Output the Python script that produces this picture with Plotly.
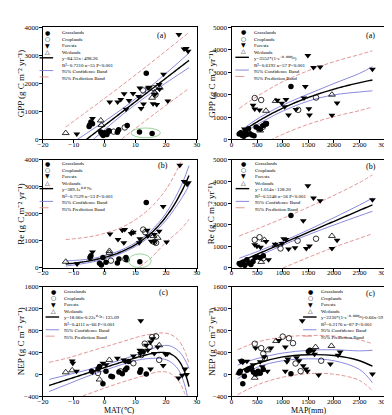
import numpy as np
import plotly.graph_objects as go

# ---------------- DATA ----------------
# Panel (a) left: GPP vs MAT
gpp_mat_grass_x = [13.6, -4.4, -4.8, -5.0, -3.9, -1.2, -0.8, -0.4, 0.2, 0.8, 1.5, 4.2, 4.6, 7.4, 11.4, 15.5]
gpp_mat_grass_y = [2360, 620, 520, 460, 560, 270, 200, 140, 240, 180, 300, 260, 350, 500, 270, 210]
gpp_mat_crop_x = [12.6, 16.0, 16.6, 6.6, 1.4, 3.0]
gpp_mat_crop_y = [1750, 1830, 1600, 430, 300, 280]
gpp_mat_forest_x = [24.2, 25.9, 26.6, 27.2, 19.2, 20.6, 17.8, 17.9, 16.4, 15.8, 17.0, 14.2, 11.5, 11.1, 11.9, 9.3, 6.4, 7.0, 4.3, 5.3, 1.7, -3.9, -9.0, 14.5, 12.7, 8.0]
gpp_mat_forest_y = [3750, 3230, 3250, 3150, 2330, 1370, 1960, 1790, 1610, 1280, 1250, 1840, 1840, 1530, 1110, 1640, 1630, 1080, 1340, 1430, 1340, 750, 200, 1860, 1270, 1390]
gpp_mat_wet_x = [-12.6, -1.2, -1.0, 15.5, 16.3, 18.0]
gpp_mat_wet_y = [230, 680, 520, 1490, 1680, 1850]
gpp_mat_fit = (84.55, 498.26)
gpp_mat_band_x = [-12.6, -6, 0, 6, 12, 18, 24, 27.5]
gpp_mat_conf_up = [-267, 206, 648, 1111, 1618, 2170, 2742, 3083]
gpp_mat_conf_lo = [-867, -224, 348, 901, 1408, 1870, 2312, 2563]
gpp_mat_pred_up = [443, 976, 1463, 1961, 2468, 2985, 3512, 3823]
gpp_mat_pred_lo = [-1577, -994, -467, 51, 558, 1055, 1542, 1823]

# Panel (a) right: GPP vs MAP
gpp_map_grass_x = [150, 180, 210, 240, 270, 300, 330, 360, 400, 440, 480, 520, 560, 620, 680, 1160]
gpp_map_grass_y = [250, 300, 180, 140, 330, 220, 480, 260, 200, 170, 560, 500, 460, 620, 700, 2360]
gpp_map_crop_x = [453, 579, 610, 673, 1302, 1650]
gpp_map_crop_y = [1850, 1760, 560, 700, 1320, 1870]
gpp_map_forest_x = [252, 610, 673, 421, 453, 547, 893, 1063, 1038, 1113, 1258, 1415, 1440, 1490, 1510, 1522, 1600, 1730, 1960, 2060, 2750, 980]
gpp_map_forest_y = [467, 612, 729, 1531, 1356, 1312, 1750, 1779, 1458, 1094, 1341, 1852, 2362, 3747, 1371, 1094, 3208, 3230, 1079, 1633, 3135, 1620]
gpp_map_wet_x = [862, 1960, 673, 560, 250]
gpp_map_wet_y = [1720, 2000, 1280, 400, 230]
gpp_map_fit = (3552, 0.0005)
gpp_map_band_x = [150, 400, 700, 1000, 1500, 2000, 2500, 2750]
gpp_map_conf_up = [330, 760, 1180, 1530, 2030, 2500, 2950, 3250]
gpp_map_conf_lo = [185, 530, 920, 1265, 1715, 1990, 2120, 2170]
gpp_map_pred_up = [1380, 1780, 2200, 2580, 3070, 3470, 3790, 3960]
gpp_map_pred_lo = [-870, -490, -100, 230, 680, 1020, 1290, 1450]

# Panel (b) left: Re vs MAT
re_mat_grass_x = [13.6, 11.5, -4.4, -4.7, -1.6, -1.0, 0.5, 4.2, 4.7, 7.0, 7.3, -0.5]
re_mat_grass_y = [2420, 230, 450, 390, 170, 110, 210, 180, 330, 390, 300, 390]
re_mat_crop_x = [12.6, 13.3, 16.2, 16.8, 6.8, 2.1]
re_mat_crop_y = [1420, 1320, 960, 930, 330, 270]
re_mat_forest_x = [24.5, 25.9, 26.9, 27.3, 19.1, 20.2, 17.8, 16.2, 14.1, 15.2, 16.2, 13.9, 11.5, 11.3, 6.6, 5.8, 6.3, 4.4, 1.8, -3.9, -8.9, 9.4, 8.7]
re_mat_forest_y = [3800, 3200, 3100, 3150, 2270, 960, 1360, 1240, 1180, 990, 970, 1390, 1080, 930, 1420, 1390, 930, 1050, 1260, 590, 145, 1320, 1270]
re_mat_wet_x = [-12.6, 1.6, 1.6, 17.3, 15.9, 9.1]
re_mat_wet_y = [230, 630, 560, 1115, 1180, 1320]
re_mat_fit = (389.1, 0.079)
re_mat_band_x = [-12.6, -5, 0, 5, 10, 15, 20, 25, 27.5]
re_mat_conf_up = [260, 330, 450, 640, 930, 1360, 2020, 3050, 3780]
re_mat_conf_lo = [70, 200, 330, 520, 790, 1190, 1760, 2560, 3050]
re_mat_pred_up = [1050, 1150, 1280, 1470, 1780, 2230, 2900, 3950, 4700]
re_mat_pred_lo = [-760, -640, -520, -350, -60, 360, 950, 1450, 1800]

# Panel (b) right: Re vs MAP
re_map_grass_x = [150, 180, 220, 260, 300, 340, 380, 420, 460, 500, 560, 620, 1160]
re_map_grass_y = [210, 150, 260, 120, 380, 230, 160, 300, 480, 520, 470, 560, 2430]
re_map_crop_x = [453, 547, 956, 1290, 1650, 620]
re_map_crop_y = [1300, 1420, 900, 1260, 1350, 450]
re_map_forest_x = [1490, 1600, 1730, 2750, 1400, 1019, 1063, 1239, 1459, 1522, 1113, 1960, 2060, 453, 497, 566, 673, 849, 987, 723]
re_map_forest_y = [3800, 3230, 3110, 3150, 2180, 1350, 1320, 930, 900, 1020, 880, 900, 1277, 1070, 1000, 960, 1220, 1100, 1130, 380]
re_map_wet_x = [642, 580, 1960, 860]
re_map_wet_y = [1300, 280, 1480, 1050]
re_map_fit = (1.014, 128.20)
re_map_band_x = [150, 500, 1000, 1500, 2000, 2500, 2750]
re_map_conf_up = [450, 755, 1232, 1759, 2326, 2913, 3230]
re_map_conf_lo = [110, 515, 1052, 1539, 1986, 2413, 2620]
re_map_pred_up = [1480, 1805, 2292, 2809, 3356, 3953, 4300]
re_map_pred_lo = [-920, -535, -8, 489, 956, 1373, 1580]

# Panel (c) left: NEP vs MAT
nep_mat_grass_x = [-0.5, -4.2, -2.1, -1.6, 0.5, 2.1, 4.7, 5.8, 6.8, 7.3, 7.9, 11.5, 11.8, 13.6, 12.6, 2.6]
nep_mat_grass_y = [-169, 57, 98, 146, 57, -32, 45, 15, 87, 116, 235, 39, 87, 10, 413, -40]
nep_mat_crop_x = [15.5, 16.8, 13.1, 14.7, 17.8, 12.0, 9.4, 5.2, -2.1]
nep_mat_crop_y = [680, 692, 561, 502, 265, 354, 205, 57, 27]
nep_mat_forest_x = [11.8, -10.5, -10.3, -9.1, -3.9, -0.5, 0.5, 4.2, 6.3, 6.8, 9.4, 11.5, 11.7, 13.6, 14.1, 15.0, 15.7, 16.2, 17.3, 19.9, 19.1, 15.0, 24.1, 25.3, 26.2, 26.7, 20.4]
nep_mat_forest_y = [977, 247, 205, 57, 39, 205, 176, 294, 265, 235, 336, 443, 383, 532, 443, 590, 650, 383, 502, 366, 164, 98, -62, -14, 98, -2, 371]
nep_mat_wet_x = [-12.6, -10.5, -1.6, 1.6, 17.8]
nep_mat_wet_y = [40, 75, -92, 265, 532]
nep_mat_fit = (18.06, 0.22, 0.3, 125.09)
nep_mat_band_x = [-18, -12, -6, 0, 6, 12, 18, 21, 24, 26, 27.5]
nep_mat_conf_up = [-90, -7, 77, 175, 277, 394, 512, 525, 433, 286, 110]
nep_mat_conf_lo = [-310, -177, -43, 75, 187, 274, 292, 245, 93, -174, -550]
nep_mat_pred_up = [220, 300, 400, 500, 600, 700, 755, 740, 630, 440, 200]
nep_mat_pred_lo = [-620, -480, -370, -250, -135, -35, 50, 30, -110, -330, -640]

# Panel (c) right: NEP vs MAP
nep_map_grass_x = [150, 170, 200, 220, 250, 300, 330, 390, 430, 470, 520, 560, 620, 1160, 1500, 1530]
nep_map_grass_y = [27, 57, 240, -169, -32, 75, 100, 98, 40, 10, 60, 20, 90, 15, 420, 440]
nep_map_crop_x = [453, 580, 620, 1000, 1120, 1200, 1250, 1350, 1750, 500, 650, 380]
nep_map_crop_y = [560, 480, 380, 690, 660, 570, 200, 60, 250, 20, 300, 110]
nep_map_forest_x = [1380, 182, 220, 420, 470, 560, 600, 700, 770, 925, 1050, 1082, 1100, 1270, 1320, 1400, 1450, 1480, 1600, 1620, 1700, 1930, 2080, 2120, 2750, 300, 640, 1050]
nep_map_forest_y = [980, 247, 223, 176, 484, 230, 140, 60, 484, 620, 502, 230, 280, 306, 250, 160, 100, 60, 430, 370, -10, 190, 350, 410, 10, 240, 320, 60]
nep_map_wet_x = [453, 700, 870, 1640, 1950, 150]
nep_map_wet_y = [-60, 440, 610, 500, 520, 30]
nep_map_band_x = [120, 500, 1000, 1500, 2000, 2500, 2750]
nep_map_fit_y = [40, 200, 320, 360, 345, 250, 150]
nep_map_conf_up = [170, 290, 390, 440, 450, 430, 440]
nep_map_conf_lo = [-80, 130, 250, 285, 250, 90, -150]
nep_map_pred_up = [450, 590, 680, 710, 700, 630, 560]
nep_map_pred_lo = [-370, -190, -50, 15, 5, -110, -300]

# ---------------- FIGURE ----------------
W, H = 392, 415
FONT = "Liberation Serif"
SYMF = "DejaVu Sans"
BLUE = "#7c7cd8"
PINK = "#e08a8a"
GREEN = "#8fd08f"
LEGFS = 5
LINEH = 1.3 * LEGFS

fig = go.Figure()

panels = [
    dict(n=1, xp=(31, 190), yp=(15.7, 130), xr=[-20, 30], yr=[0, 4000], xt=10, yt=1000, xd=-20),
    dict(n=2, xp=(226, 385), yp=(15.7, 130), xr=[0, 3000], yr=[0, 5000], xt=500, yt=1000, xd=0),
    dict(n=3, xp=(31, 190), yp=(150.7, 261), xr=[-20, 30], yr=[0, 4000], xt=10, yt=1000, xd=-20),
    dict(n=4, xp=(226, 385), yp=(150.7, 261), xr=[0, 3000], yr=[0, 5000], xt=500, yt=1000, xd=0),
    dict(n=5, xp=(31, 190), yp=(280, 392), xr=[-20, 30], yr=[-400, 1600], xt=10, yt=400, xd=-20),
    dict(n=6, xp=(226, 385), yp=(280, 392), xr=[0, 3000], yr=[-400, 1600], xt=500, yt=400, xd=0),
]

for p in panels:
    n = p["n"]
    s = "" if n == 1 else str(n)
    axcommon = dict(showline=True, linecolor="black", linewidth=1, mirror=True,
                    ticks="outside", ticklen=3, tickwidth=1, tickcolor="black",
                    showgrid=False, zeroline=False,
                    tickfont=dict(family=FONT, size=7, color="black"))
    fig.layout["xaxis" + s] = dict(domain=[p["xp"][0] / W, p["xp"][1] / W], anchor="y" + s,
                                   range=p["xr"], dtick=p["xt"], tick0=p["xd"], ticklabelstandoff=-5,
                                   **axcommon)
    fig.layout["yaxis" + s] = dict(domain=[1 - p["yp"][1] / H, 1 - p["yp"][0] / H], anchor="x" + s,
                                   range=p["yr"], dtick=p["yt"], tick0=0, ticklabelstandoff=-1, **axcommon)


def add_points(n, gx, gy, cx, cy, fx, fy, wx, wy):
    s = "" if n == 1 else str(n)
    kw = dict(xaxis="x" + s, yaxis="y" + s, mode="markers", showlegend=False, hoverinfo="skip")
    fig.add_trace(go.Scatter(x=gx, y=gy, marker=dict(symbol="circle", size=5.5, color="black"), **kw))
    fig.add_trace(go.Scatter(x=cx, y=cy, marker=dict(symbol="circle-open", size=5.5, color="black",
                                                     line=dict(width=0.8)), **kw))
    fig.add_trace(go.Scatter(x=fx, y=fy, marker=dict(symbol="triangle-down", size=6, color="black"), **kw))
    fig.add_trace(go.Scatter(x=wx, y=wy, marker=dict(symbol="triangle-up-open", size=6, color="black",
                                                     line=dict(width=0.8)), **kw))


def add_curves(n, fx, fy, bx, cu, cl, pu, pl):
    s = "" if n == 1 else str(n)
    kw = dict(xaxis="x" + s, yaxis="y" + s, mode="lines", showlegend=False, hoverinfo="skip")
    for yy in (pu, pl):
        fig.add_trace(go.Scatter(x=bx, y=yy, line=dict(color=PINK, width=0.9, dash="4px,2px", shape="spline"), **kw))
    for yy in (cu, cl):
        fig.add_trace(go.Scatter(x=bx, y=yy, line=dict(color=BLUE, width=0.9, shape="spline"), **kw))
    fig.add_trace(go.Scatter(x=fx, y=fy, line=dict(color="black", width=1.4, shape="spline"), **kw))


# (a) left
xs = np.linspace(gpp_mat_band_x[0], gpp_mat_band_x[-1], 60)
add_curves(1, xs, gpp_mat_fit[0] * xs + gpp_mat_fit[1], gpp_mat_band_x,
           gpp_mat_conf_up, gpp_mat_conf_lo, gpp_mat_pred_up, gpp_mat_pred_lo)
add_points(1, gpp_mat_grass_x, gpp_mat_grass_y, gpp_mat_crop_x, gpp_mat_crop_y,
           gpp_mat_forest_x, gpp_mat_forest_y, gpp_mat_wet_x, gpp_mat_wet_y)
# (a) right
xs = np.linspace(gpp_map_band_x[0], gpp_map_band_x[-1], 60)
add_curves(2, xs, gpp_map_fit[0] * (1 - np.exp(-gpp_map_fit[1] * xs)), gpp_map_band_x,
           gpp_map_conf_up, gpp_map_conf_lo, gpp_map_pred_up, gpp_map_pred_lo)
add_points(2, gpp_map_grass_x, gpp_map_grass_y, gpp_map_crop_x, gpp_map_crop_y,
           gpp_map_forest_x, gpp_map_forest_y, gpp_map_wet_x, gpp_map_wet_y)
# (b) left
xs = np.linspace(re_mat_band_x[0], re_mat_band_x[-1], 60)
add_curves(3, xs, re_mat_fit[0] * np.exp(re_mat_fit[1] * xs), re_mat_band_x,
           re_mat_conf_up, re_mat_conf_lo, re_mat_pred_up, re_mat_pred_lo)
add_points(3, re_mat_grass_x, re_mat_grass_y, re_mat_crop_x, re_mat_crop_y,
           re_mat_forest_x, re_mat_forest_y, re_mat_wet_x, re_mat_wet_y)
# (b) right
xs = np.linspace(re_map_band_x[0], re_map_band_x[-1], 60)
add_curves(4, xs, re_map_fit[0] * xs + re_map_fit[1], re_map_band_x,
           re_map_conf_up, re_map_conf_lo, re_map_pred_up, re_map_pred_lo)
add_points(4, re_map_grass_x, re_map_grass_y, re_map_crop_x, re_map_crop_y,
           re_map_forest_x, re_map_forest_y, re_map_wet_x, re_map_wet_y)
# (c) left
xs = np.linspace(nep_mat_band_x[0], nep_mat_band_x[-1], 80)
a, b, c, d = nep_mat_fit
add_curves(5, xs, a * xs - b * np.exp(c * xs) + d, nep_mat_band_x,
           nep_mat_conf_up, nep_mat_conf_lo, nep_mat_pred_up, nep_mat_pred_lo)
add_points(5, nep_mat_grass_x, nep_mat_grass_y, nep_mat_crop_x, nep_mat_crop_y,
           nep_mat_forest_x, nep_mat_forest_y, nep_mat_wet_x, nep_mat_wet_y)
# (c) right
add_curves(6, nep_map_band_x, nep_map_fit_y, nep_map_band_x,
           nep_map_conf_up, nep_map_conf_lo, nep_map_pred_up, nep_map_pred_lo)
add_points(6, nep_map_grass_x, nep_map_grass_y, nep_map_crop_x, nep_map_crop_y,
           nep_map_forest_x, nep_map_forest_y, nep_map_wet_x, nep_map_wet_y)

# green ellipses (highlight)
ellipses = [("x", "y", 8.6, 18.2, 60, 410), ("x3", "y3", 7.8, 15.2, 10, 520)]
shapes = []
for xr_, yr_, x0, x1, y0, y1 in ellipses:
    shapes.append(dict(type="circle", xref=xr_, yref=yr_, x0=x0, x1=x1, y0=y0, y1=y1,
                       line=dict(color=GREEN, width=0.9)))

annotations = []

legend_names = [
    ("y=84.55x+498.26", "R²=0.7310 n=55 P<0.001"),
    ("y=3552*(1-e⁻⁰˙⁰⁰⁰⁵ˣ)", "R²=0.6192 n=57 P<0.001"),
    ("y=389.1e⁰˙⁰⁷⁹ˣ", "R²=0.7529 n=53 P<0.001"),
    ("y=1.014x+128.20", "R²=0.5248 n=56 P<0.001"),
    ("y=18.06x-0.22e⁰˙³ˣ+125.09", "R²=0.4111 n=66 P<0.001"),
    ("y=2230*(1-e⁻⁰˙⁰⁰⁰⁵ˣ)-0.66x-59", "R²=0.2176 n=87 P<0.001"),
]
# symbol x offset px, text x offset px, first row centre px from panel top
legend_pos = [
    (4.5, 19, 5.0),
    (12, 22.5, 4.5),
    (4.5, 19, 3.4),
    (12.3, 23, 3.4),
    (10.7, 20.7, 5.0),
    (82, 92, 5.0),
]
panel_labels = [("(a)", 0.77, 8.3), ("(a)", 0.906, 8.3), ("(b)", 0.78, 5.5),
                ("(b)", 0.906, 7.3), ("(c)", 0.784, 5.7), ("(c)", 0.906, 6.7)]
syms = ["●", "○", "▼", "△"]
cats = ["Grasslands", "Croplands", "Forests", "Wetlands"]

for i, p in enumerate(panels):
    n = p["n"]
    s = "" if n == 1 else str(n)
    pw = p["xp"][1] - p["xp"][0]
    ph = p["yp"][1] - p["yp"][0]
    sx, tx, r0 = legend_pos[i]
    xref, yref = "x" + s + " domain", "y" + s + " domain"
    rows = [r0 + k * LINEH for k in range(8)]
    fy = [1 - r / ph for r in rows]
    for k in range(4):
        annotations.append(dict(xref=xref, yref=yref, x=sx / pw, y=fy[k], text=syms[k], showarrow=False,
                                xanchor="center", yanchor="middle", borderpad=0,
                                font=dict(family=SYMF, size=6, color="black")))
    texts = cats + [legend_names[i][0], legend_names[i][1], "95% Confidence Band", "95% Prediction Band"]
    top = 1 - (r0 - LINEH / 2) / ph
    annotations.append(dict(xref=xref, yref=yref, x=tx / pw, y=top, text="<br>".join(texts),
                            showarrow=False, xanchor="left", yanchor="top", align="left", borderpad=0,
                            font=dict(family=FONT, size=LEGFS, color="black")))
    for k, (col, dash, wd) in zip([4, 6, 7], [("black", "solid", 1.4), (BLUE, "solid", 0.9), (PINK, "dash", 0.9)]):
        shapes.append(dict(type="line", xref=xref, yref=yref, x0=(sx - 8) / pw, x1=(sx + 6) / pw,
                           y0=fy[k], y1=fy[k], line=dict(color=col, width=wd, dash=dash)))
    lab, lx, ly = panel_labels[i]
    annotations.append(dict(xref=xref, yref=yref, x=lx, y=1 - ly / ph, text=lab, showarrow=False,
                            xanchor="center", yanchor="middle", font=dict(family=FONT, size=8, color="black")))

ytitles = [
    ("GPP (g C m⁻² yr⁻¹)", 8, 73),
    ("GPP (g C m⁻² yr⁻¹)", 205, 73),
    ("Re (g C m⁻² yr⁻¹)", 8, 206),
    ("Re (g C m⁻² yr⁻¹)", 205, 206),
    ("NEP (g C m⁻² yr⁻¹)", 8, 336),
    ("NEP (g C m⁻² yr⁻¹)", 205, 336),
]
for t, px, py in ytitles:
    annotations.append(dict(xref="paper", yref="paper", x=px / W, y=1 - py / H, text=t, textangle=-90,
                            showarrow=False, xanchor="center", yanchor="middle",
                            font=dict(family=FONT, size=9, color="black")))
for t, px in (("MAT(℃)", 110.5), ("MAP(mm)", 305.5)):
    annotations.append(dict(xref="paper", yref="paper", x=px / W, y=1 - 406.5 / H, text=t,
                            showarrow=False, xanchor="center", yanchor="middle",
                            font=dict(family=FONT, size=8, color="black")))

fig.update_layout(width=W, height=H, margin=dict(l=0, r=0, t=0, b=0), showlegend=False,
                  plot_bgcolor="white", paper_bgcolor="white",
                  font=dict(family=FONT, color="black"),
                  shapes=shapes, annotations=annotations)

fig.write_html("out.html")
